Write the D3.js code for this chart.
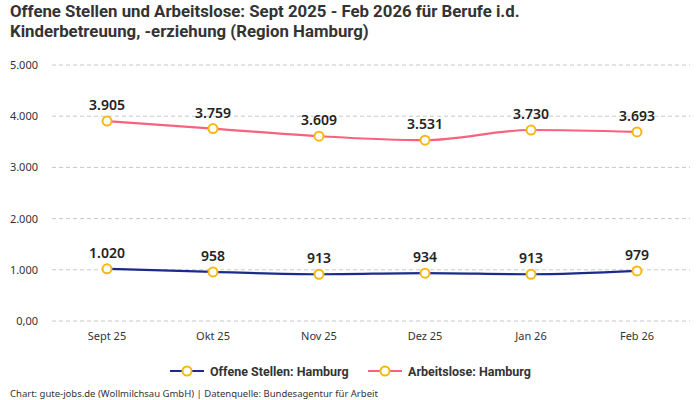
<!DOCTYPE html>
<html>
<head>
<meta charset="utf-8">
<script src="https://cdn.jsdelivr.net/npm/d3@7"></script>
<style>
  body { margin: 0; background: #fff; }
  svg { font-family: "Noto Sans", sans-serif; }
</style>
</head>
<body>
<svg id="chart" width="700" height="400"></svg>
<script>
const months = ["Sept 25", "Okt 25", "Nov 25", "Dez 25", "Jan 26", "Feb 26"]
const offeneStellen = [1020, 958, 913, 934, 913, 979]
const arbeitslose = [3905, 3759, 3609, 3531, 3730, 3693]
const yTicks = [0, 1000, 2000, 3000, 4000, 5000]
const yTickLabels = ["0,00", "1.000", "2.000", "3.000", "4.000", "5.000"]

const series = [
  { name: "Offene Stellen: Hamburg", values: offeneStellen, color: "#1b2a8c" },
  { name: "Arbeitslose: Hamburg", values: arbeitslose, color: "#f7637d" }
]

const svg = d3.select("#chart")
const fmt = d3.formatLocale({ decimal: ",", thousands: ".", grouping: [3], currency: ["", "€"] }).format(",d")

// title
const title = svg.append("text")
  .attr("x", 10).attr("y", 17)
  .attr("font-size", 16.8).attr("font-weight", "bold").attr("fill", "#333")
  .attr("font-family", "Roboto, sans-serif")
title.append("tspan").attr("x", 10).attr("dy", 0)
  .text("Offene Stellen und Arbeitslose: Sept 2025 - Feb 2026 für Berufe i.d.")
title.append("tspan").attr("x", 10).attr("dy", 20)
  .text("Kinderbetreuung, -erziehung (Region Hamburg)")

const x = d3.scalePoint().domain(months).range([54, 690]).padding(0.5)
const y = d3.scaleLinear().domain([0, 5000]).range([321, 65])

// grid
svg.append("g").selectAll("line").data(yTicks).join("line")
  .attr("x1", 52).attr("x2", 690)
  .attr("y1", d => y(d)).attr("y2", d => y(d))
  .attr("stroke", "#c8c8c8").attr("stroke-dasharray", "4,3")

svg.append("g").selectAll("text").data(yTicks).join("text")
  .attr("x", 38).attr("y", d => y(d) + 4)
  .attr("text-anchor", "end").attr("font-size", 11).attr("fill", "#333")
  .text((d, i) => yTickLabels[i])

svg.append("g").selectAll("text").data(months).join("text")
  .attr("x", d => x(d)).attr("y", 340)
  .attr("text-anchor", "middle").attr("font-size", 11).attr("fill", "#333")
  .text(d => d)

const line = d3.line()
  .x((d, i) => x(months[i]))
  .y(d => y(d))
  .curve(d3.curveMonotoneX)

series.forEach(s => {
  svg.append("path")
    .attr("d", line(s.values))
    .attr("fill", "none").attr("stroke", s.color).attr("stroke-width", 2.2)

  svg.append("g").selectAll("circle").data(s.values).join("circle")
    .attr("cx", (d, i) => x(months[i])).attr("cy", d => y(d))
    .attr("r", 4.5).attr("fill", "#fff").attr("stroke", "#f7b814").attr("stroke-width", 2)

  svg.append("g").selectAll("text").data(s.values).join("text")
    .attr("x", (d, i) => x(months[i])).attr("y", d => y(d) - 11)
    .attr("text-anchor", "middle").attr("font-size", 14).attr("font-weight", 600)
    .attr("fill", "#222")
    .text(d => fmt(d))
})

// legend
const legend = svg.append("g")
const items = [{ s: series[0], x: 170 }, { s: series[1], x: 368 }]
items.forEach(it => {
  const g = legend.append("g").attr("transform", `translate(${it.x},371)`)
  g.append("line").attr("x1", 0).attr("x2", 34).attr("y1", 0).attr("y2", 0)
    .attr("stroke", it.s.color).attr("stroke-width", 2.2)
  g.append("circle").attr("cx", 17).attr("cy", 0).attr("r", 4.5)
    .attr("fill", "#fff").attr("stroke", "#f7b814").attr("stroke-width", 2)
  g.append("text").attr("x", 40).attr("y", 4.5)
    .attr("font-size", 12.5).attr("font-weight", "bold").attr("fill", "#333")
    .attr("font-family", "Roboto, sans-serif")
    .text(it.s.name)
})

svg.append("text")
  .attr("x", 10).attr("y", 397)
  .attr("font-size", 9.5).attr("fill", "#333")
  .text("Chart: gute-jobs.de (Wollmilchsau GmbH) | Datenquelle: Bundesagentur für Arbeit")
</script>
</body>
</html>
